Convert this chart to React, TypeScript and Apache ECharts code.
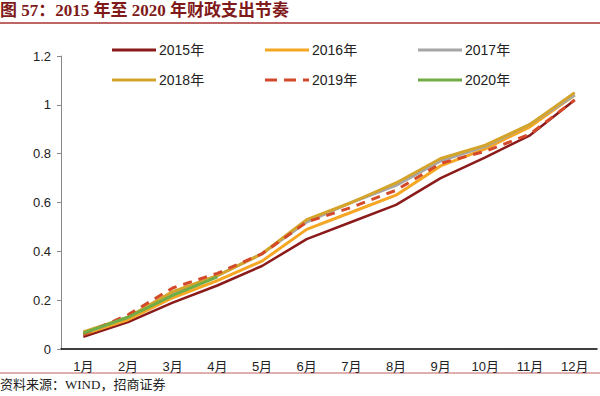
import React, { useEffect, useRef } from "react";
import * as echarts from "echarts";

const months = ["1月", "2月", "3月", "4月", "5月", "6月", "7月", "8月", "9月", "10月", "11月", "12月"];
const yTicks = [0, 0.2, 0.4, 0.6, 0.8, 1, 1.2];
const seriesNames = ["2015年", "2016年", "2017年", "2018年", "2019年", "2020年"];
const s2015 = [0.05, 0.11, 0.19, 0.26, 0.34, 0.45, 0.52, 0.59, 0.70, 0.785, 0.875, 1.02];
const s2016 = [0.06, 0.12, 0.21, 0.28, 0.36, 0.49, 0.56, 0.63, 0.75, 0.82, 0.91, 1.04];
const s2017 = [0.065, 0.13, 0.23, 0.30, 0.39, 0.52, 0.60, 0.67, 0.77, 0.83, 0.92, 1.04];
const s2018 = [0.07, 0.13, 0.235, 0.30, 0.39, 0.53, 0.60, 0.68, 0.78, 0.835, 0.92, 1.05];
const s2019 = [0.06, 0.14, 0.25, 0.31, 0.39, 0.52, 0.58, 0.65, 0.76, 0.81, 0.88, 1.02];
const s2020 = [0.065, 0.13, 0.22, 0.295];

const colors = ["#8B1A1A", "#F5A623", "#A6A6A6", "#D4A52A", "#D4492A", "#70AD47"];
const dataSets = [s2015, s2016, s2017, s2018, s2019, s2020];

const solidIcon = "path://M0,0h44v3h-44z";
const dashIcon = "path://M0,0h12v3h-12z M19,0h12v3h-12z M38,0h6v3h-6z";

export default function App() {
  const ref = useRef<HTMLDivElement>(null);
  useEffect(() => {
    if (!ref.current) return;
    const chart = echarts.init(ref.current, undefined, { renderer: "svg" });
    const legendPos = [
      [107, 38], [260, 38], [413, 38],
      [107, 68], [260, 68], [413, 68],
    ];
    chart.setOption({
      animation: false,
      backgroundColor: "#fff",
      grid: { left: 61, right: 3, top: 56, bottom: 47 },
      legend: seriesNames.map((n, i) => ({
        data: [{ name: n, icon: i === 4 ? dashIcon : solidIcon }],
        left: legendPos[i][0],
        top: legendPos[i][1],
        itemWidth: 44,
        itemHeight: 3,
        itemGap: 0,
        textStyle: { fontSize: 14, color: "#222", fontFamily: "Arial, Liberation Sans, Noto Sans CJK SC", padding: [0, 0, 0, -2] },
      })),
      xAxis: {
        type: "category",
        data: months,
        boundaryGap: true,
        axisLine: { lineStyle: { color: "#000", width: 1.5 } },
        axisTick: { show: false },
        axisLabel: { fontSize: 13, color: "#222", margin: 11, fontFamily: "Arial, Liberation Sans, Noto Sans CJK SC" },
      },
      yAxis: {
        type: "value",
        min: yTicks[0],
        max: yTicks[yTicks.length - 1],
        interval: 0.2,
        axisLine: { show: true, lineStyle: { color: "#888" } },
        axisTick: { show: true, inside: false, length: 4, lineStyle: { color: "#888" } },
        splitLine: { show: false },
        axisLabel: {
          fontSize: 13,
          color: "#222",
          margin: 10,
          fontFamily: "Arial, Liberation Sans",
          formatter: (v: number) => String(Math.round(v * 10) / 10),
        },
      },
      series: seriesNames.map((n, i) => ({
        name: n,
        type: "line",
        data: dataSets[i],
        symbol: "none",
        smooth: false,
        itemStyle: { color: colors[i] },
        lineStyle: {
          color: colors[i],
          width: i === 0 ? 2.5 : 3,
          type: i === 4 ? [9, 7] : "solid",
        },
        z: 2 + i,
      })),
      graphic: [
        {
          type: "text",
          left: 0,
          top: 2,
          style: {
            text: "图 57：2015 年至 2020 年财政支出节奏",
            font: "bold 17px 'Liberation Serif', 'Noto Sans CJK SC'",
            fill: "#7F1A1A",
          },
        },
        {
          type: "line",
          shape: { x1: 0, y1: 23, x2: 600, y2: 23 },
          style: { stroke: "#A83232", lineWidth: 1.5 },
        },
        {
          type: "line",
          shape: { x1: 0, y1: 373, x2: 600, y2: 373 },
          style: { stroke: "#C06060", lineWidth: 1 },
        },
        {
          type: "text",
          left: 0,
          top: 378,
          style: {
            text: "资料来源：WIND，招商证券",
            font: "13px 'Liberation Serif', 'Noto Sans CJK SC'",
            fill: "#222",
          },
        },
      ],
    });
    return () => chart.dispose();
  }, []);
  return <div ref={ref} style={{ width: 600, height: 396, position: "absolute", left: 0, top: 0 }} />;
}
